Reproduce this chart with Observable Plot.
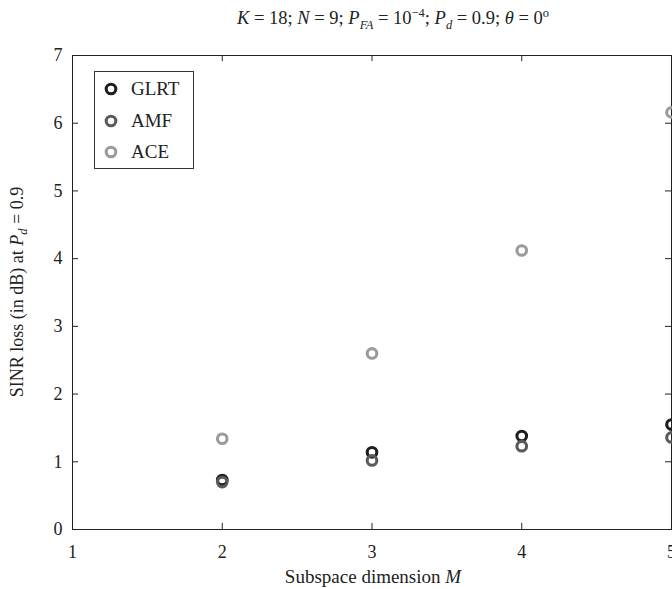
<!DOCTYPE html>
<html>
<head>
<meta charset="utf-8">
<script src="https://cdn.jsdelivr.net/npm/d3@7"></script>
<script src="https://cdn.jsdelivr.net/npm/@observablehq/plot@0.6"></script>
<style>
  body { margin: 0; background: #fff; }
  #wrap { position: relative; width: 672px; height: 589px; font-family: "Liberation Serif", "DejaVu Serif", serif; color: #222; overflow: hidden; }
  #title { position: absolute; top: 8px; left: 193px; width: 400px; text-align: center; font-size: 18.5px; white-space: nowrap; }
  #ylab { position: absolute; left: 17px; top: 292px; transform: translate(-50%, -50%) rotate(-90deg); font-size: 18px; white-space: nowrap; }
  #xlab { position: absolute; top: 566px; left: 373px; transform: translateX(-50%); font-size: 19px; white-space: nowrap; }
  sub, sup { font-size: 12.5px; line-height: 0; }
  #legend { position: absolute; left: 94px; top: 71px; width: 98px; height: 96px; border: 1px solid #333; background: #fff; font-size: 19px; }
  #legend .row { position: absolute; left: 6px; height: 22px; display: flex; align-items: center; }
  #legend svg { margin-right: 10px; }
</style>
</head>
<body>
<div id="wrap">
  <div id="title"><i>K</i> = 18; <i>N</i> = 9; <i>P</i><sub><i>FA</i></sub> = 10<sup>−4</sup>; <i>P</i><sub><i>d</i></sub> = 0.9; <i>θ</i> = 0<sup>o</sup></div>
  <div id="chart"></div>
  <div id="ylab">SINR loss (in dB) at <i>P</i><sub><i>d</i></sub> = 0.9</div>
  <div id="xlab">Subspace dimension <i>M</i></div>
  <div id="legend"></div>
</div>
<script>
// Subspace dimension M
const dims = [2, 3, 4, 5];
// SINR loss (dB) at Pd = 0.9 for each detector
const glrt = [0.73, 1.14, 1.38, 1.55];
const amf = [0.70, 1.02, 1.23, 1.36];
const ace = [1.34, 2.60, 4.12, 6.16];

const detectors = ["GLRT", "AMF", "ACE"];
const colors = ["#1e1e1e", "#5a5a5a", "#9b9b9b"];

const xTicks = [1, 2, 3, 4, 5];
const yTicks = [0, 1, 2, 3, 4, 5, 6, 7];

const rows = [];
[glrt, amf, ace].forEach((vals, i) => {
  vals.forEach((v, j) => rows.push({ detector: detectors[i], M: dims[j], loss: v }));
});

const tickLenX = 0.09; // in y units
const tickLenY = 0.04; // in x units

const plot = Plot.plot({
  width: 672,
  height: 589,
  marginLeft: 72,
  marginRight: 1,
  marginTop: 55,
  marginBottom: 60,
  style: { fontSize: "18px", fontFamily: "Liberation Serif", color: "#222", background: "transparent", overflow: "visible" },
  x: { domain: [1, 5], ticks: xTicks, tickFormat: d => String(d), tickSize: 0, tickPadding: 16, label: null },
  y: { domain: [0, 7], ticks: yTicks, tickFormat: d => String(d), tickSize: 0, tickPadding: 10, label: null },
  color: { domain: detectors, range: colors },
  marks: [
    Plot.frame({ stroke: "#222", strokeWidth: 1 }),
    // inward ticks on all four sides
    Plot.ruleX(xTicks.slice(1, -1), { y1: 0, y2: tickLenX, stroke: "#222" }),
    Plot.ruleX(xTicks.slice(1, -1), { y1: 7 - tickLenX, y2: 7, stroke: "#222" }),
    Plot.ruleY(yTicks.slice(1, -1), { x1: 1, x2: 1 + tickLenY, stroke: "#222" }),
    Plot.ruleY(yTicks.slice(1, -1), { x1: 5 - tickLenY, x2: 5, stroke: "#222" }),
    Plot.dot(rows, { x: "M", y: "loss", stroke: "detector", r: 4.8, strokeWidth: 3.1, fill: "none" })
  ]
});
document.getElementById("chart").appendChild(plot);

// legend
const legend = document.getElementById("legend");
detectors.forEach((d, i) => {
  const row = document.createElement("div");
  row.className = "row";
  row.style.top = (6 + i * 31.5) + "px";
  row.innerHTML = `<svg width="20" height="20"><circle cx="10" cy="10" r="4.8" fill="none" stroke="${colors[i]}" stroke-width="3.1"/></svg><span>${d}</span>`;
  legend.appendChild(row);
});
</script>
</body>
</html>
